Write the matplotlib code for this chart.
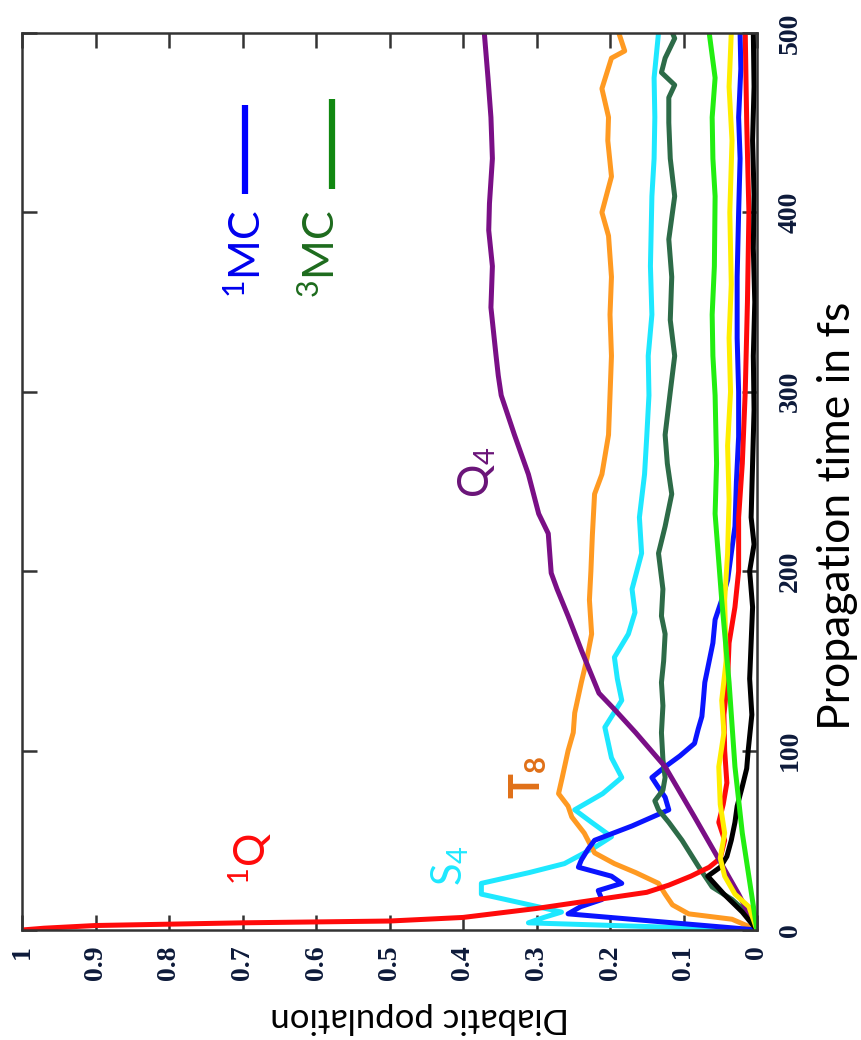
"""
Diabatic populations vs propagation time (rotated layout, as in the source figure)
"""
import matplotlib
matplotlib.use('Agg')
import matplotlib.pyplot as plt

plt.rcParams['font.family'] = ['Lato', 'DejaVu Sans']
plt.rcParams['mathtext.fontset'] = 'custom'
plt.rcParams['mathtext.rm'] = 'Lato'
plt.rcParams['mathtext.bf'] = 'Lato:bold'

# data: time in fs, population
t_red = [0, 1, 2.5, 4, 5, 7, 10, 12, 15, 18, 21, 25, 30, 35, 40, 50, 60, 70, 82, 100,
         120, 140, 160, 180, 200, 230, 260, 300, 350, 400, 450, 500]
p_red = [1.0, .97, .90, .70, .50, .40, .34, .30, .25, .20, .15, .12, .09, .065, .05, .044, .052, .046, .041, .044,
         .045, .04, .038, .03, .025, .025, .02, .016, .013, .011, .014, .016]

t_blue = [0, 9, 13, 17, 22, 26, 30, 35, 39, 45, 50, 58, 67, 74, 80, 85, 91, 97, 104, 112, 119, 128,
          138, 150, 160, 173, 184, 195, 210, 225, 250, 275, 300, 330, 364, 400, 430, 453, 480, 500]
p_blue = [0, .257, .24, .211, .216, .184, .198, .243, .239, .23, .221, .17, .12, .125, .135, .143, .125, .105, .085, .08, .075, .073,
          .071, .065, .06, .057, .048, .04, .035, .03, .028, .025, .025, .027, .027, .025, .023, .025, .022, .023]

t_cyan = [0, 4, 7, 10, 15, 20, 26, 32, 37, 46, 52, 60, 67, 76, 85, 96, 113, 128, 140, 152, 165, 177,
          190, 210, 230, 254, 275, 298, 320, 343, 370, 409, 430, 453, 475, 500]
p_cyan = [0, .311, .29, .266, .32, .375, .375, .31, .262, .221, .198, .225, .248, .21, .184, .198, .207, .184, .19, .194, .175, .166,
          .17, .157, .16, .153, .15, .147, .148, .143, .145, .143, .14, .139, .14, .134]

t_orange = [0, 6, 9, 14, 20, 26, 32, 37, 43, 54, 63, 69, 76, 85, 100, 110, 121, 138, 150, 165, 184, 200,
            220, 243, 254, 276, 298, 320, 343, 364, 387, 400, 420, 440, 453, 469, 486, 490, 500]
p_orange = [0, .034, .093, .115, .125, .134, .165, .194, .221, .235, .252, .257, .27, .265, .257, .25, .248, .239, .232, .225, .228, .226,
            .224, .221, .211, .202, .2, .198, .2, .198, .202, .211, .198, .203, .202, .211, .198, .18, .188]

t_purple = [0, 20, 43, 63, 91, 110, 123, 132, 145, 156, 175, 190, 199, 210, 221, 232, 254, 276, 298, 309,
            320, 347, 370, 390, 405, 430, 453, 475, 500]
p_purple = [0, .025, .057, .085, .125, .165, .194, .215, .228, .239, .257, .272, .28, .282, .284, .297, .311, .33, .348, .352,
            .355, .362, .36, .365, .364, .36, .362, .366, .371]

t_dgreen = [0, 10, 17, 24, 35, 50, 60, 67, 72, 78, 85, 95, 110, 125, 138, 150, 165, 175, 190, 210, 225, 243, 260,
            276, 300, 320, 340, 364, 385, 409, 430, 450, 464, 471, 478, 486, 497, 500]
p_dgreen = [0, .015, .034, .061, .079, .102, .12, .134, .139, .128, .125, .128, .13, .128, .13, .127, .125, .13, .128, .134, .125, .116, .122,
            .125, .118, .112, .118, .116, .12, .112, .118, .12, .12, .112, .13, .125, .112, .115]

t_black = [0, 10, 20, 30, 35, 41, 50, 60, 69, 80, 90, 100, 120, 140, 160, 180, 200, 215, 230, 260, 290,
           320, 350, 380, 410, 440, 470, 500]
p_black = [0, .02, .045, .067, .05, .041, .035, .03, .027, .02, .014, .012, .007, .01, .008, .006, .01, .004, .008, .006, .004,
           .005, .003, .005, .004, .006, .004, .005]

t_yellow = [0, 13, 20, 30, 40, 54, 70, 91, 110, 128, 150, 184, 210, 240, 270, 300, 330, 360, 400, 440, 470, 500]
p_yellow = [0, .011, .03, .044, .05, .044, .05, .052, .045, .048, .042, .044, .04, .038, .04, .036, .038, .035, .037, .034, .038, .035]

t_lime = [0, 54, 91, 138, 184, 232, 260, 298, 320, 343, 370, 409, 430, 453, 475, 500]
p_lime = [0, .02, .03, .038, .048, .057, .055, .057, .06, .061, .058, .057, .06, .061, .057, .065]

pop_ticks = [0, 0.1, 0.2, 0.3, 0.4, 0.5, 0.6, 0.7, 0.8, 0.9, 1]
pop_ticklabels = ['0', '0.1', '0.2', '0.3', '0.4', '0.5', '0.6', '0.7', '0.8', '0.9', '1']
time_ticks = [0, 100, 200, 300, 400, 500]

fig = plt.figure(figsize=(8.61, 10.4), dpi=100)
ax = fig.add_axes([22 / 861, 110 / 1040, 735 / 861, 897 / 1040])

# x = population (inverted), y = time  -> figure is the original plot turned 90 deg
series = [
    (t_cyan, p_cyan, '#1ee8ff'),
    (t_orange, p_orange, '#ff9a22'),
    (t_blue, p_blue, '#0a14ff'),
    (t_dgreen, p_dgreen, '#2d6b48'),
    (t_red, p_red, '#ff0a0a'),
    (t_purple, p_purple, '#7a0f86'),
    (t_black, p_black, '#000000'),
    (t_yellow, p_yellow, '#ffee00'),
    (t_lime, p_lime, '#22ee11'),
]
for t, p, c in series:
    ax.plot(p, t, color=c, lw=3.6, solid_joinstyle='round')

ax.set_xlim(1, 0)
ax.set_ylim(0, 500)

ax.set_xticks(pop_ticks)
ax.set_xticklabels(pop_ticklabels, rotation=90, va='top', ha='center',
                   family='Liberation Serif', weight='bold', fontsize=20, color='#0d1a3a')
ax.set_yticks(time_ticks)
ax.set_yticklabels([str(v) for v in time_ticks], rotation=90, va='center', ha='left',
                   family='Liberation Serif', weight='bold', fontsize=20, color='#0d1a3a')
ax.tick_params(axis='x', direction='in', top=True, bottom=True, length=11, width=1.8,
               color='#333333', pad=11)
ax.tick_params(axis='y', direction='in', left=True, right=True, labelleft=False,
               labelright=True, length=11, width=1.8, color='#333333', pad=15)
for s in ax.spines.values():
    s.set_color('#333333')
    s.set_linewidth(1.8)

# axis titles
fig.text(420 / 861, 1 - 1018 / 1040, 'Diabatic population', rotation=180,
         ha='center', va='center', fontsize=25)
fig.text(838 / 861, 1 - 516 / 1040, 'Propagation time in fs', rotation=90,
         ha='center', va='center', fontsize=32)

# state labels
ax.text(0.689, 40, r'$\mathrm{^{1}Q}$', color='#ff0a0a', rotation=90, ha='center', va='center', fontsize=30)
ax.text(0.417, 36, r'$\mathrm{S_{4}}$', color='#1ee8ff', rotation=90, ha='center', va='center', fontsize=30)
ax.text(0.311, 85, r'$\mathbf{T_{8}}$', color='#e07018', rotation=90, ha='center', va='center', fontsize=30)
ax.text(0.381, 255, r'$\mathrm{Q_{4}}$', color='#6a1478', rotation=90, ha='center', va='center', fontsize=30)

# key
ax.text(0.694, 377, r'$\mathrm{^{1}MC}$', color='#0000ee', rotation=90, ha='center', va='center', fontsize=31)
ax.text(0.593, 377, r'$\mathrm{^{3}MC}$', color='#1d6b1d', rotation=90, ha='center', va='center', fontsize=31)
ax.plot([0.697, 0.697], [410, 460], color='#0000ff', lw=4.5, solid_capstyle='butt')
ax.plot([0.578, 0.578], [413, 463], color='#118811', lw=4.5, solid_capstyle='butt')

plt.savefig('out.png', dpi=100)
